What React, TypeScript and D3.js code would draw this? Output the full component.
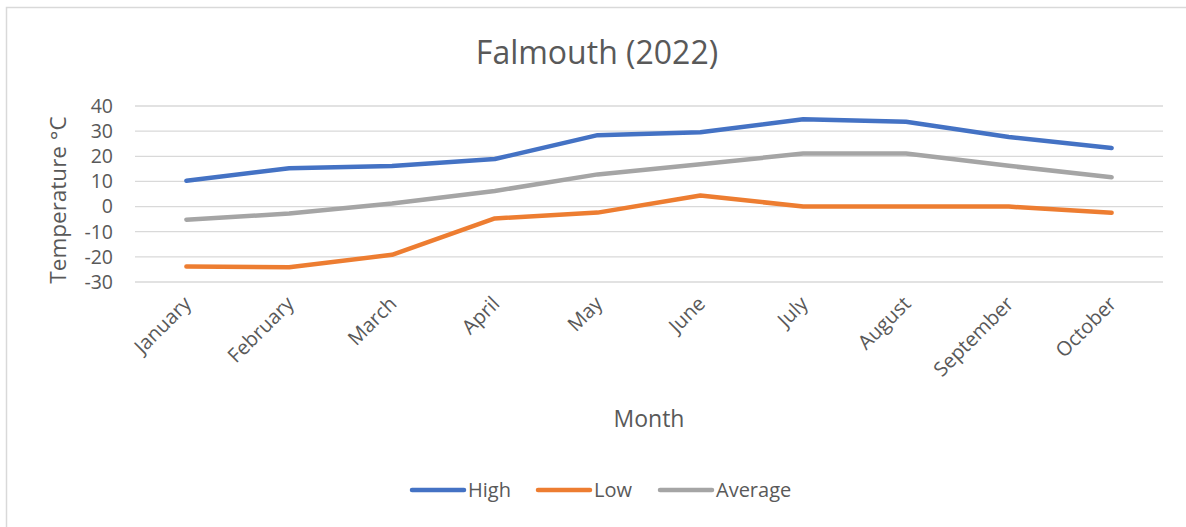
import React from "react";
import * as d3 from "d3";

const months = ["January", "February", "March", "April", "May", "June", "July", "August", "September", "October"];
const high = [10.3, 15.2, 16.1, 18.9, 28.4, 29.6, 34.7, 33.7, 27.7, 23.3];
const low = [-23.8, -24.1, -19.2, -4.7, -2.4, 4.4, 0, 0, 0, -2.5];
const average = [-5.2, -2.8, 1.2, 6.2, 12.8, 16.8, 21.1, 21.1, 16.2, 11.7];
const yTicks = [-30, -20, -10, 0, 10, 20, 30, 40];
const seriesNames = ["High", "Low", "Average"];
const colors = ["#4472C4", "#ED7D31", "#A5A5A5"];

const W = 1186;
const H = 527;
const FONT = "'Open Sans', 'Liberation Sans', sans-serif";

export default function App() {
  const x = d3.scaleBand<string>().domain(months).range([135, 1163]);
  const y = d3.scaleLinear().domain([-30, 40]).range([282, 106]);
  const line = d3
    .line<number>()
    .x((_, i) => (x(months[i]) as number) + x.bandwidth() / 2)
    .y((d) => y(d));
  const series = [high, low, average];
  const legendX = [410, 536, 658];

  return (
    <svg width={W} height={H} style={{ position: "absolute", left: 0, top: 0 }}>
      <rect x={0} y={0} width={W} height={H} fill="#fff" />
      <path d="M6.5,527 L6.5,7.5 L1186,7.5" fill="none" stroke="#d9d9d9" strokeWidth={1.5} />
      <text x={597} y={64} textAnchor="middle" fontFamily={FONT} fontSize={32} fill="#595959">
        Falmouth (2022)
      </text>
      {yTicks.map((t) => (
        <g key={t}>
          <line x1={135} x2={1163} y1={y(t)} y2={y(t)} stroke="#d9d9d9" strokeWidth={1.3} />
          <text x={113} y={y(t)} dy="0.35em" textAnchor="end" fontFamily={FONT} fontSize={19.5} fill="#595959">
            {t}
          </text>
        </g>
      ))}
      <text
        transform={`translate(66,200) rotate(-90)`}
        textAnchor="middle"
        fontFamily={FONT}
        fontSize={22.5}
        fill="#595959"
      >
        Temperature °C
      </text>
      {months.map((m) => {
        const cx = (x(m) as number) + x.bandwidth() / 2;
        return (
          <text
            key={m}
            transform={`translate(${cx + 6},${305}) rotate(-45)`}
            textAnchor="end"
            fontFamily={FONT}
            fontSize={20}
            fill="#595959"
          >
            {m}
          </text>
        );
      })}
      <text x={649} y={427} textAnchor="middle" fontFamily={FONT} fontSize={23} fill="#595959">
        Month
      </text>
      {series.map((s, i) => (
        <path
          key={seriesNames[i]}
          d={line(s) || ""}
          fill="none"
          stroke={colors[i]}
          strokeWidth={4.5}
          strokeLinecap="round"
          strokeLinejoin="round"
        />
      ))}
      {seriesNames.map((n, i) => (
        <g key={n}>
          <line
            x1={legendX[i] + 2}
            x2={legendX[i] + 54}
            y1={490}
            y2={490}
            stroke={colors[i]}
            strokeWidth={4.5}
            strokeLinecap="round"
          />
          <text x={legendX[i] + 58} y={490} dy="0.35em" fontFamily={FONT} fontSize={20} fill="#595959">
            {n}
          </text>
        </g>
      ))}
    </svg>
  );
}
